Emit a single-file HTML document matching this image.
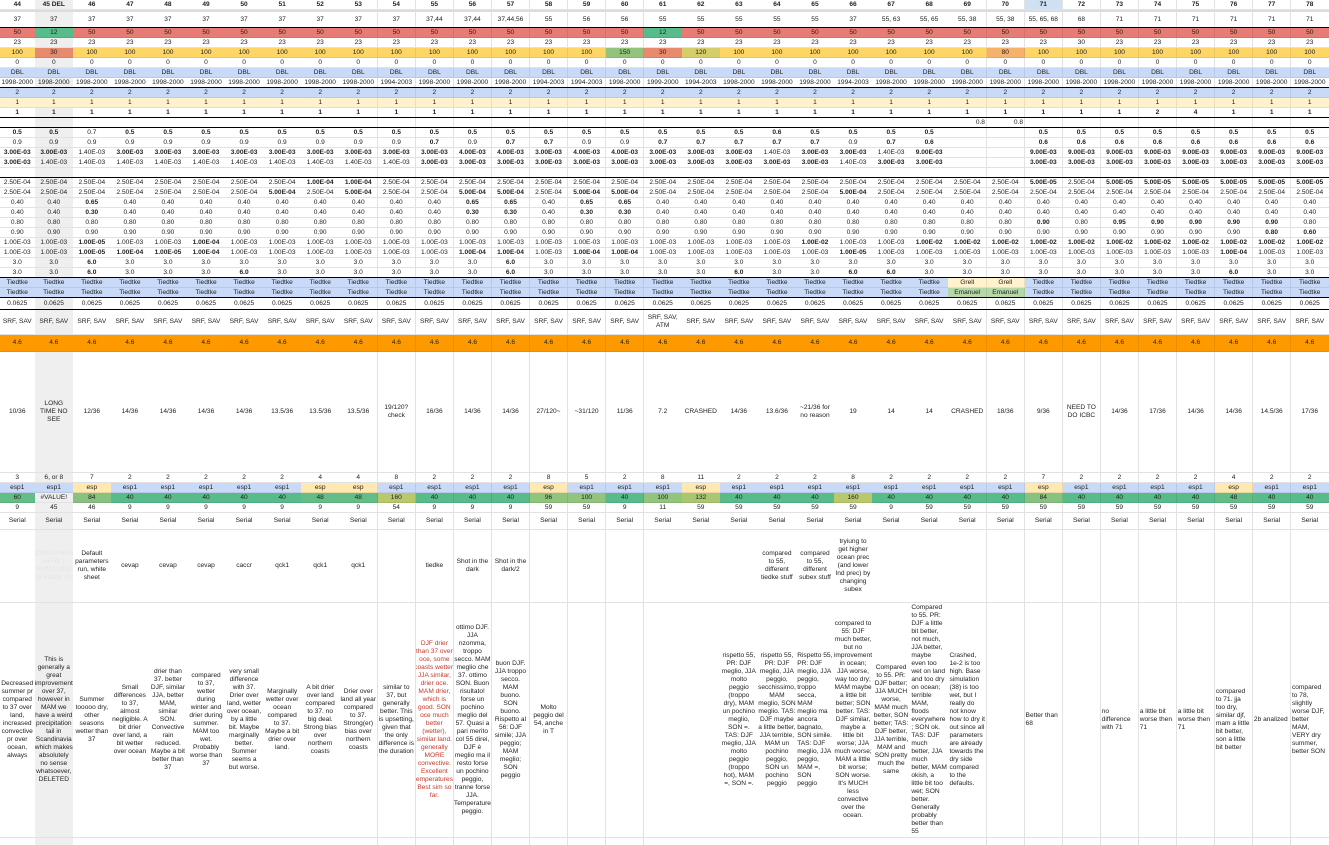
<!DOCTYPE html>
<html><head><meta charset="utf-8">
<style>
html,body{margin:0;padding:0;background:#fff;}
#sheet{position:relative;width:1329px;height:845px;overflow:hidden;font-family:"Liberation Sans",Arial,sans-serif;color:#222;}
.c{position:absolute;box-sizing:border-box;border-right:1px solid #e2e2e2;border-bottom:1px solid #e2e2e2;display:flex;align-items:center;justify-content:center;text-align:center;font-size:6.6px;line-height:8px;overflow:hidden;padding:0 1px;}
.c.b{font-weight:bold;}
.c.l{justify-content:flex-start;text-align:left;}
.c.r{justify-content:flex-end;}
.hl{position:absolute;left:0;width:1329px;height:1px;background:#000;}
</style></head><body>
<div id="sheet"></div>
<script>
const colNums=[];for(let n=44;n<=78;n++)colNums.push(n);
function cx(i){return i===0?0:35+(i-1)*38.06;}
function cw(i){return i===0?35:38.06;}
function R(def,ov){return colNums.map(n=>ov&&ov[n]!==undefined?ov[n]:def);}
function B(list,val){const o={};list.forEach(n=>o[n]=val);return o;}
const rows=[];
function add(y,h,vals,opt){rows.push(Object.assign({y,h,vals},opt||{}));}
// header
add(0,10,colNums.map(n=>'*'+(n===45?'45 DEL':n)),{name:'run-number-header'});
add(12,16,R('37',{55:'37,44',56:'37,44',57:'37,44,56',58:'55',59:'56',60:'56',61:'55',62:'55',63:'55',64:'55',65:'55',66:'37',67:'55, 63',68:'55, 65',69:'55, 38',70:'55, 38',71:'55, 65, 68',72:'68',73:'71',74:'71',75:'71',76:'71',77:'71',78:'71'}),{name:'parent-run'});
add(28,10,R('50',{45:'12',61:'12'}),{bg:'#e67c73',bgo:{45:'#57bb8a',61:'#57bb8a'}});
add(38,10,R('23',{72:'30'}));
add(48,10,R('100',{45:'30',60:'150',61:'30',62:'120',70:'80'}),{bg:'#ffd666',bgo:{45:'#e88a6e',60:'#93c47d',61:'#e88a6e',62:'#d5cd6a',70:'#f6b26b'}});
add(58,10,R('0'));
add(68,10,R('DBL'),{bg:'#c9daf8'});
add(78,10,R('1998-2000',{54:'1994-2003',58:'1994-2003',59:'1994-2003',61:'1999-2000',62:'1994-2003',66:'1994-2003'}));
add(88,10,R('2'),{bg:'#c9daf8'});
add(98,10,R('1'),{bg:'#fff2cc'});
add(108,10,R('*1',{74:'*2',75:'*4'}));
add(118,10,R('',{69:'0.8',70:'0.8'}),{align:'r'});
add(128,10,R('*0.5',{46:'0.7',64:'*0.6',69:'',70:''}));
add(138,10,R('0.9',Object.assign(B([55,57,58,61,62,63,64,65,67],'*0.7'),B([68,71,72,73,74,75,76,77,78],'*0.6'),{69:'',70:''})));
add(148,10,R('*3.00E-03',Object.assign({46:'1.40E-03',56:'*4.00E-03',57:'*4.00E-03',59:'*4.00E-03',60:'*4.00E-03',64:'1.40E-03',67:'1.40E-03',69:'',70:''},B([68,71,72,73,74,75,76,77,78],'*9.00E-03'))));
add(158,10,R('*3.00E-03',Object.assign(B([45,46,47,48,49,50,51,52,53,54,66],'1.40E-03'),{69:'',70:''})));
add(168,10,R(''));
add(178,10,R('2.50E-04',Object.assign({52:'*1.00E-04',53:'*1.00E-04'},B([71,73,74,75,76,77,78],'*5.00E-05'))));
add(188,10,R('2.50E-04',B([51,53,56,57,59,60,66],'*5.00E-04')));
add(198,10,R('0.40',B([46,56,57,59,60],'*0.65')));
add(208,10,R('0.40',B([46,56,57,59,60],'*0.30')));
add(218,10,R('0.80',{71:'*0.90',73:'*0.95',74:'*0.90',75:'*0.90',76:'*0.90',77:'*0.90'}));
add(228,10,R('0.90',{77:'*0.80',78:'*0.60'}));
add(238,10,R('1.00E-03',Object.assign({46:'*1.00E-05',49:'*1.00E-04',65:'*1.00E-02'},B([68,69,70,71,72,73,74,75,76,77,78],'*1.00E-02'))));
add(248,10,R('1.00E-03',{46:'*1.00E-05',47:'*1.00E-04',48:'*1.00E-05',49:'*1.00E-04',56:'*1.00E-04',57:'*1.00E-04',59:'*1.00E-04',60:'*1.00E-04',66:'*1.00E-05',76:'*1.00E-04'}));
add(258,10,R('3.0',{46:'*6.0',57:'*6.0'}));
add(268,10,R('3.0',B([46,50,57,63,66,67,76],'*6.0')));
add(278,10,R('Tiedtke',{69:'Grell',70:'Grell'}),{bg:'#c9daf8',bgo:{69:'#fff2cc',70:'#fff2cc'}});
add(288,10,R('Tiedtke',{69:'Emanuel',70:'Emanuel'}),{bg:'#c9daf8',bgo:{69:'#b6d7a8',70:'#b6d7a8'}});
add(298,12,R('0.0625'));
add(310,25,R('SRF, SAV',{61:'SRF, SAV, ATM'}));
add(335,17,R('4.6'),{bg:'#ff9900'});
add(352,121,R('',{44:'10/36',45:'LONG TIME NO SEE',46:'12/36',47:'14/36',48:'14/36',49:'14/36',50:'14/36',51:'13.5/36',52:'13.5/36',53:'13.5/36',54:'19/120? check',55:'16/36',56:'14/36',57:'14/36',58:'27/120~',59:'~31/120',60:'11/36',61:'7.2',62:'CRASHED',63:'14/36',64:'13.6/36',65:'~21/36 for no reason',66:'19',67:'14',68:'14',69:'CRASHED',70:'18/36',71:'9/36',72:'NEED TO DO ICBC',73:'14/36',74:'17/36',75:'14/36',76:'14/36',77:'14.5/36',78:'17/36'}),{name:'score-row'});
add(473,10,R('2',{44:'3',45:'6, or 8',46:'7',52:'4',53:'4',54:'8',58:'8',59:'5',61:'8',62:'11',66:'8',71:'7',76:'4'}));
const espCols=[46,52,53,58,62,71,76];
const espBg={};espCols.forEach(n=>espBg[n]='#ffe9b0');
add(483,10,R('esp1',B(espCols,'esp')),{bg:'#c9daf8',bgo:espBg});
add(493,10,R('40',{44:'60',45:'#VALUE!',46:'84',52:'48',53:'48',54:'160',58:'96',59:'100',61:'100',62:'132',66:'160',71:'84',76:'48'}),{bg:'#57bb8a',bgo:{44:'#63bd86',45:'#efefef',46:'#87c37e',52:'#63bd86',53:'#63bd86',54:'#b9c86b',58:'#8fc47b',59:'#92c57b',61:'#92c57b',62:'#a9c771',66:'#b9c86b',71:'#87c37e',76:'#63bd86'}});
add(503,10,R('59',{44:'9',45:'45',46:'46',47:'9',48:'9',49:'9',50:'9',51:'9',52:'9',53:'9',54:'54',55:'9',56:'9',57:'9',60:'9',61:'11',67:'9'}));
add(513,17,R('Serial'));
add(530,73,R('',{45:'SOMEWHERE HERE I SWITCHED TO EOBS V14',46:'Default parameters run, white sheet',47:'cevap',48:'cevap',49:'cevap',50:'caccr',51:'qck1',52:'qck1',53:'qck1',55:'tiedke',56:'Shot in the dark',57:'Shot in the dark/2',64:'compared to 55, different tiedke stuff',65:'compared to 55, different subex stuff',66:'tryiung to get higher ocean prec (and lower lnd prec) by changing subex'}),{name:'description-row'});
add(603,235,R('',{
44:'Decreased summer pr compared to 37 over land, increased convective pr over ocean, always',
45:'This is generally a great improvement over 37, however in MAM we have a weird precipitation tail in Scandinavia which makes absolutely no sense whatsoever, DELETED',
46:'Summer tooooo dry, other seasons wetter than 37',
47:'Small differences to 37, almost negligible. A bit drier over land, a bit wetter over ocean',
48:'drier than 37. better DJF, similar JJA, better MAM, similar SON. Convective rain reduced. Maybe a bit better than 37',
49:'compared to 37, wetter during winter and drier during summer. MAM too wet. Probably worse than 37',
50:'very small difference with 37. Drier over land, wetter over ocean, by a little bit. Maybe marginally better. Summer seems a but worse.',
51:'Marginally wetter over ocean compared to 37. Maybe a bit drier over land.',
52:'A bit drier over land compared to 37. no big deal. Strong bias over northern coasts',
53:'Drier over land all year compared to 37. Strong(er) bias over northern coasts',
54:'similar to 37, but generally better. This is upsetting, given that the only difference is the duration',
55:'DJF drier than 37 over oce, some coasts wetter. JJA similar, drier oce. MAM drier, which is good. SON oce much better (wetter), similar land. generally MORE convective. Excellent temperatures. Best sim so far.',
56:'ottimo DJF. JJA nzomma, troppo secco. MAM meglio che 37. ottimo SON. Buon risultato! forse un pochino meglio del 57. Quasi a pari merito col 55 direi, DJF è meglio ma il resto forse un pochino peggio, tranne forse JJA. Temperature peggio.',
57:'buon DJF. JJA troppo secco. MAM buono. SON buono. Rispetto al 56: DJF simile; JJA peggio; MAM meglio; SON peggio',
58:'Molto peggio del 54, anche in T',
63:'rispetto 55, PR: DJF meglio, JJA molto peggio (troppo dry), MAM un pochino meglio, SON =. TAS: DJF meglio, JJA molto peggio (troppo hot), MAM =, SON =.',
64:'rispetto 55, PR: DJF meglio, JJA peggio, secchissimo, MAM meglio, SON meglio. TAS: DJF maybe a little better, JJA terrible, MAM un pochino peggio, SON un pochino peggio',
65:'Rispetto 55, PR: DJF meglio, JJA peggio, troppo secca, MAM meglio ma ancora bagnato, SON simile. TAS: DJF meglio, JJA peggio, MAM =, SON peggio',
66:'compared to 55: DJF much better, but no improvement in ocean; JJA worse, way too dry; MAM maybe a little bit better; SON better. TAS: DJF similar, maybe a little bit worse; JJA much worse; MAM a little bit worse; SON worse. It\'s MUCH less convective over the ocean.',
67:'Compared to 55. PR: DJF better; JJA MUCH worse, MAM much better, SON better; TAS: DJF better, JJA terrible, MAM and SON pretty much the same',
68:'Compared to 55. PR: DJF a little bit better, not much, JJA better, maybe even too wet on land and too dry on ocean; terrible MAM, floods everywhere ; SON ok. TAS: DJF much better, JJA much better, MAM okish, a little bit too wet; SON better. Generally probably better than 55',
69:'Crashed, 1e-2 is too high. Base simulation (38) is too wet, but I really do not know how to dry it out since all parameters are already towards the dry side compared to the defaults.',
71:'Better than 68',
73:'no difference with 71',
74:'a little bit worse then 71',
75:'a little bit worse then 71',
76:'compared to 71. jja too dry, similar djf, mam a little bit better, son a little bit better',
77:'2b analized',
78:'compared to 78, slightly worse DJF, better MAM, VERY dry summer, better SON'}),{name:'notes-row',leftCols:[65,68,69,71,73,74,75,76,77,78]});
add(838,10,R(''));

const sheet=document.getElementById('sheet');
// column 45 gray background
rows.forEach((row,ri)=>{
  row.vals.forEach((v,i)=>{
    const n=colNums[i];
    const d=document.createElement('div');
    
    
    let cls='c';
    if(v.startsWith('*')){cls+=' b';v=v.slice(1);}
    if(row.align==='r')cls+=' r';
    if(row.leftCols&&row.leftCols.includes(n))cls+=' l';
    d.className=cls;
    let bg=(row.bgo&&row.bgo[n])||row.bg||(n===45?'#efefef':(ri===0&&n===71?'#d6e4f5':'#fff'));
    if(ri===0) bg = n===45?'#efefef':(n===71?'#cfe0f3':'#fff');
    d.style.cssText='left:'+cx(i)+'px;top:'+row.y+'px;width:'+(cw(i)+0.5)+'px;height:'+row.h+'px;background:'+bg+';';
    if(row.bg&&row.bg!=='#fff'&&!(row.bgo&&row.bgo[n]==='#efefef'))d.style.borderColor='rgba(0,0,0,0.08)';
    if(row.name==='notes-row'&&n===55)d.style.color='#c0392b';
    if(row.name==='description-row'&&n===45)d.style.color='#e4e4e4';
    d.textContent=v;
    sheet.appendChild(d);
  });
});
// header separator
const sep=document.createElement('div');


sep.style.cssText='position:absolute;left:0;top:10px;width:1329px;height:2px;background:#d8dce3;';
sheet.appendChild(sep);
[28,88,118,128,178,278,298,310].forEach(y=>{
  const l=document.createElement('div');
  
  
  l.className='hl';l.style.top=(y-1)+'px';
  sheet.appendChild(l);
});
</script>
</body></html>
